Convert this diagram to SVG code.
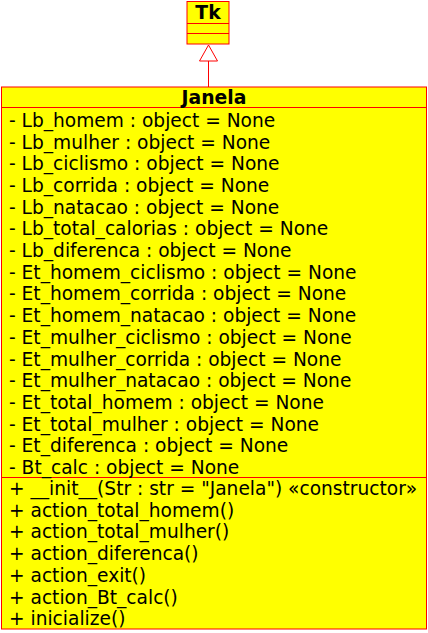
<svg xmlns="http://www.w3.org/2000/svg" width="428" height="633" viewBox="0 0 428 633">
  <style>
    .box { fill: #ffff00; stroke: #ff0000; stroke-width: 1; }
    .sep { stroke: #ff0000; stroke-width: 1; fill: none; }
    .title { font-family: "DejaVu Sans", sans-serif; font-weight: bold; font-size: 18.8px; fill: #000; text-anchor: middle; }
    .member { font-family: "DejaVu Sans", sans-serif; font-size: 18.6px; fill: #000; }
  </style>
  <rect width="428" height="633" fill="#ffffff"/>

  <g id="connectors">
    <line class="sep" x1="208.5" y1="61" x2="208.5" y2="87"/>
    <polygon points="208.5,45 199.5,61 217.5,61" fill="#ffffff" stroke="#ff0000" stroke-width="1"/>
  </g>

  <g id="Tk">
    <rect class="box" x="187" y="1.5" width="42" height="42.5"/>
    <line class="sep" x1="187" y1="23.5" x2="229" y2="23.5"/>
    <line class="sep" x1="187" y1="33.5" x2="229" y2="33.5"/>
    <text class="title" x="208" y="19">Tk</text>
  </g>

  <g id="Janela">
    <rect class="box" x="1.5" y="87" width="425" height="542"/>
    <line class="sep" x1="1.5" y1="107.5" x2="426.5" y2="107.5"/>
    <line class="sep" x1="1.5" y1="477.5" x2="426.5" y2="477.5"/>
    <text class="title" x="214" y="104">Janela</text>
    <g class="member">
      <text x="9" y="126.8">- Lb_homem : object = None</text>
      <text x="9" y="148.5">- Lb_mulher : object = None</text>
      <text x="9" y="170.2">- Lb_ciclismo : object = None</text>
      <text x="9" y="191.9">- Lb_corrida : object = None</text>
      <text x="9" y="213.6">- Lb_natacao : object = None</text>
      <text x="9" y="235.3">- Lb_total_calorias : object = None</text>
      <text x="9" y="257">- Lb_diferenca : object = None</text>
      <text x="9" y="278.7">- Et_homem_ciclismo : object = None</text>
      <text x="9" y="300.4">- Et_homem_corrida : object = None</text>
      <text x="9" y="322.1">- Et_homem_natacao : object = None</text>
      <text x="9" y="343.8">- Et_mulher_ciclismo : object = None</text>
      <text x="9" y="365.5">- Et_mulher_corrida : object = None</text>
      <text x="9" y="387.2">- Et_mulher_natacao : object = None</text>
      <text x="9" y="408.9">- Et_total_homem : object = None</text>
      <text x="9" y="430.6">- Et_total_mulher : object = None</text>
      <text x="9" y="452.3">- Et_diferenca : object = None</text>
      <text x="9" y="474">- Bt_calc : object = None</text>
      <text x="9" y="495">+ __init__(Str : str = "Janela") «constructor»</text>
      <text x="9" y="516.7">+ action_total_homem()</text>
      <text x="9" y="538.4">+ action_total_mulher()</text>
      <text x="9" y="560.1">+ action_diferenca()</text>
      <text x="9" y="581.8">+ action_exit()</text>
      <text x="9" y="603.5">+ action_Bt_calc()</text>
      <text x="9" y="625.2">+ inicialize()</text>
    </g>
  </g>
</svg>
